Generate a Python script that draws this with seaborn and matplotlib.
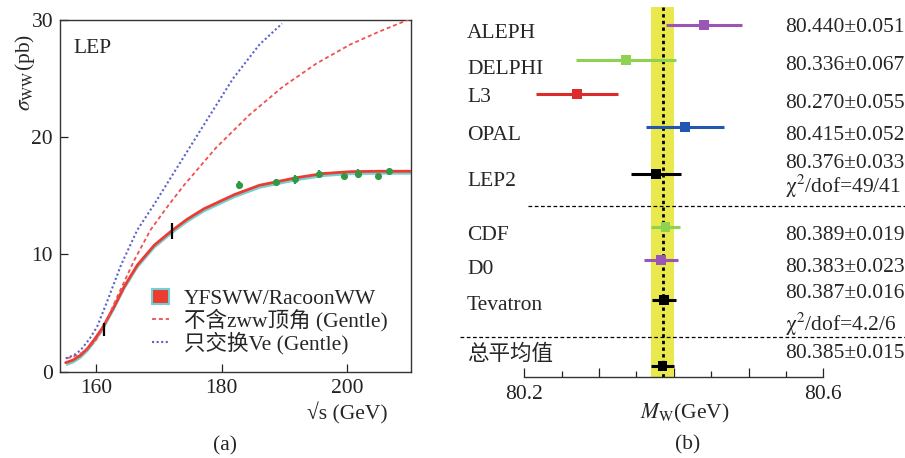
import matplotlib
matplotlib.use("Agg")
import matplotlib.pyplot as plt
from matplotlib.patches import Patch
from matplotlib.lines import Line2D
from matplotlib.ticker import FixedLocator, FuncFormatter
import pandas as pd
import seaborn as sns

# ---------------- (a) e+e- -> WW cross section at LEP ----------------
# YFSWW / RacoonWW prediction
sqrt_s_full = [155.2, 156.4, 157.6, 158.7, 159.7, 161.0, 162.9, 164.5, 166.6, 169.3,
               172.0, 174.5, 177.2, 182.0, 186.0, 191.9, 196.1, 200.4, 205.0, 210.0]
sigma_full = [0.77, 1.0, 1.42, 2.0, 2.7, 3.7, 5.55, 7.25, 9.1, 10.8,
              12.0, 13.0, 13.9, 15.1, 15.9, 16.55, 16.9, 17.06, 17.1, 17.1]

# Gentle without the ZWW vertex
sqrt_s_nozww = [155.4, 157.0, 158.6, 160.0, 161.3, 163.4, 166.1, 168.7, 171.4, 174.0,
                179.1, 184.4, 189.7, 195.1, 200.4, 205.0, 210.0]
sigma_nozww = [1.14, 1.4, 1.85, 2.7, 3.84, 6.4, 9.5, 12.1, 14.1, 15.9,
               19.1, 21.9, 24.3, 26.3, 27.9, 29.0, 30.1]

# Gentle with nu_e exchange only
sqrt_s_nue = [155.2, 156.5, 157.6, 159.0, 160.2, 161.8, 164.0, 166.6, 169.3, 171.5,
              176.4, 181.8, 186.0, 189.6]
sigma_nue = [1.14, 1.4, 1.85, 2.8, 3.84, 6.0, 9.1, 12.1, 14.3, 16.2,
             20.4, 25.0, 27.9, 29.7]

# LEP combined measurements
lep_energy = [161.3, 172.1, 182.7, 188.6, 191.6, 195.5, 199.5, 201.6, 204.9, 206.6]
lep_sigma = [3.6, 12.0, 15.9, 16.2, 16.4, 16.9, 16.7, 16.9, 16.7, 17.1]
lep_error = [0.55, 0.7, 0.35, 0.2, 0.42, 0.3, 0.25, 0.35, 0.25, 0.2]

# ---------------- (b) W mass measurements ----------------
experiments = ["ALEPH", "DELPHI", "L3", "OPAL", "LEP2", "CDF", "D0", "Tevatron", "总平均值"]
mw_values = [80.440, 80.336, 80.270, 80.415, 80.376, 80.389, 80.383, 80.387, 80.385]
mw_errors = [0.051, 0.067, 0.055, 0.052, 0.033, 0.019, 0.023, 0.016, 0.015]
chi2_notes = {"LEP2": "49/41", "Tevatron": "4.2/6"}
world_average = 80.385
world_error = 0.015

# ---------------- layout / style ----------------
W, H = 905, 458
sns.set_theme(style="ticks")
plt.rcParams["font.family"] = ["Liberation Serif", "Noto Sans CJK SC", "DejaVu Sans"]
plt.rcParams["mathtext.fontset"] = "stix"
FS = 15.5

fig = plt.figure(figsize=(W / 100, H / 100), dpi=100)

def px_box(x0, y0, x1, y1):
    return [x0 / W, 1 - y1 / H, (x1 - x0) / W, (y1 - y0) / H]

# ----- panel (a) -----
ax = fig.add_axes(px_box(60, 20, 411, 371.7))
ax.set_xlim(154.3, 210.1)
ax.set_ylim(0, 30)

band_color = "#74cfd0"
red = "#ec3b31"
ax.fill_between(sqrt_s_full, [v - 0.25 for v in sigma_full], [v + 0.12 for v in sigma_full],
                color=band_color, lw=0, zorder=2)
sns.lineplot(x=sqrt_s_full, y=sigma_full, ax=ax, color=red, lw=2.0, zorder=3,
             sort=False, estimator=None)
sns.lineplot(x=sqrt_s_nozww, y=sigma_nozww, ax=ax, color="#f05050", lw=1.3,
             dashes=(2.2, 1.6), zorder=3, sort=False, estimator=None)
sns.lineplot(x=sqrt_s_nue, y=sigma_nue, ax=ax, color="#5a64c8", lw=1.5,
             dashes=(1.0, 1.2), zorder=3, sort=False, estimator=None)

pt_colors = ["black", "black"] + ["#2e9a45"] * (len(lep_energy) - 2)
for e, s, err, c in zip(lep_energy, lep_sigma, lep_error, pt_colors):
    ax.errorbar(e, s, yerr=err, fmt="none", ecolor=c, elinewidth=1.6, capsize=0, zorder=4)
green_df = pd.DataFrame({"E": lep_energy[2:], "sigma": lep_sigma[2:]})
sns.scatterplot(data=green_df, x="E", y="sigma", ax=ax, color="#2e9a45", marker="o",
                s=26, linewidth=0, zorder=5)

ax.set_xticks([160, 180, 200])
ax.set_yticks([0, 10, 20, 30])
ax.tick_params(direction="in", length=6, width=0.9, labelsize=FS, pad=5,
               colors="#222222")
for sp in ax.spines.values():
    sp.set_color("#333333")
    sp.set_linewidth(1.0)
ax.set_xlabel("")
ax.set_ylabel("")
ax.text(0.037, 0.945, "LEP", transform=ax.transAxes, fontsize=FS, va="top", ha="left")

handles = [
    Patch(facecolor=red, edgecolor=band_color, linewidth=1.5),
    Line2D([0], [0], color="#f05050", lw=1.3, dashes=(2.2, 1.6)),
    Line2D([0], [0], color="#5a64c8", lw=1.5, dashes=(1.0, 1.2)),
]
labels = ["YFSWW/RacoonWW", "不含zww顶角 (Gentle)", "只交换Ve (Gentle)"]
ax.legend(handles, labels, loc="upper left", bbox_to_anchor=(0.262, 0.236),
          frameon=False, fontsize=FS, handlelength=0.8, handletextpad=0.7,
          labelspacing=0.0, borderaxespad=0, borderpad=0)

fig.text(25 / W, 1 - 72 / H, r"$\sigma_{\mathrm{WW}}$(pb)", rotation=90,
         ha="center", va="center", fontsize=FS)
fig.text(347 / W, 1 - 413 / H, "√s (GeV)", ha="center", va="center", fontsize=FS)
fig.text(225 / W, 1 - 446 / H, "(a)", ha="center", va="center", fontsize=FS)

# ----- panel (b) -----
axb = fig.add_axes(px_box(440, 0, 905, 377))
px_per_gev = (823.3 - 524.3) / 0.4
axb.set_xlim(80.2 - (524.3 - 440) / px_per_gev, 80.6 + (905 - 823.3) / px_per_gev)
axb.set_ylim(377, 0)

# vertical layout of the rows (pixel rows from the top of the panel)
point_row = [25, 60, 94, 127, 174, 227, 260, 300, 366]
name_row = [33, 69, 98, 136, 181, 235, 270, 306, 355]
value_row = [28, 65, 103, 135, 164, 235, 268, 294, 354]
chi2_row = {"LEP2": 186, "Tevatron": 324}
colors = ["#9a55b5", "#8fd150", "#dd2a2a", "#2356b0", "black",
          "#8fd150", "#9a55b5", "black", "black"]

axb.axvspan(world_average - world_error, world_average + world_error,
            ymin=0, ymax=1 - 7 / 377, color="#e9e84c", lw=0, zorder=1)
axb.plot([world_average, world_average], [7, 377], color="black", lw=2.0,
         ls=(0, (1.2, 1.2)), zorder=2)

for m, e, y, c in zip(mw_values, mw_errors, point_row, colors):
    axb.errorbar(m, y, xerr=e, fmt="none", ecolor=c, elinewidth=2.2, capsize=0, zorder=3)
df_b = pd.DataFrame({"mw": mw_values, "row": point_row, "exp": experiments})
sns.scatterplot(data=df_b, x="mw", y="row", hue="exp", palette=colors, ax=axb,
                marker="s", s=50, linewidth=0, legend=False, zorder=4)

x_lo, x_hi = axb.get_xlim()
for name, m, e, yn, yv in zip(experiments, mw_values, mw_errors, name_row, value_row):
    axb.text(467 / W, 1 - yn / H, name, transform=fig.transFigure, fontsize=FS,
             ha="left", va="center")
    axb.text(785 / W, 1 - yv / H, f"{m:.3f}±{e:.3f}", transform=fig.transFigure,
             fontsize=FS, ha="left", va="center")
    if name in chi2_notes:
        axb.text(785 / W, 1 - chi2_row[name] / H,
                 r"$\mathrm{\chi}^2$/dof=" + chi2_notes[name],
                 transform=fig.transFigure, fontsize=FS, ha="left", va="center")

axb.plot([80.2 + (528 - 524.3) / px_per_gev, x_hi], [206, 206], color="black",
         lw=0.9, ls=(0, (3, 2)), zorder=2)
axb.plot([80.2 + (460 - 524.3) / px_per_gev, x_hi], [337, 337], color="black",
         lw=0.9, ls=(0, (3, 2)), zorder=2)

for side in ["left", "top", "right"]:
    axb.spines[side].set_visible(False)
axb.spines["bottom"].set_bounds(80.2, 80.6)
axb.spines["bottom"].set_color("#333333")
axb.spines["bottom"].set_linewidth(1.0)
axb.set_yticks([])
axb.xaxis.set_major_locator(FixedLocator([80.2, 80.3, 80.4, 80.5, 80.6]))
axb.xaxis.set_minor_locator(FixedLocator([80.25, 80.35, 80.45, 80.55]))
axb.xaxis.set_major_formatter(FuncFormatter(
    lambda v, p: f"{v:.1f}" if abs(v - 80.2) < 1e-6 or abs(v - 80.6) < 1e-6 else ""))
axb.tick_params(axis="x", which="major", direction="in", length=6.5, width=0.9,
                labelsize=FS, pad=6, colors="#222222")
axb.tick_params(axis="x", which="minor", direction="in", length=4, width=0.9,
                colors="#222222")
axb.set_xlabel("")
axb.set_ylabel("")
axb.set_facecolor("none")

fig.text(685 / W, 1 - 413 / H, r"$M_{\mathrm{W}}$(GeV)", ha="center", va="center",
         fontsize=FS)
fig.text(688 / W, 1 - 445 / H, "(b)", ha="center", va="center", fontsize=FS)

fig.savefig("out.png", dpi=100)
